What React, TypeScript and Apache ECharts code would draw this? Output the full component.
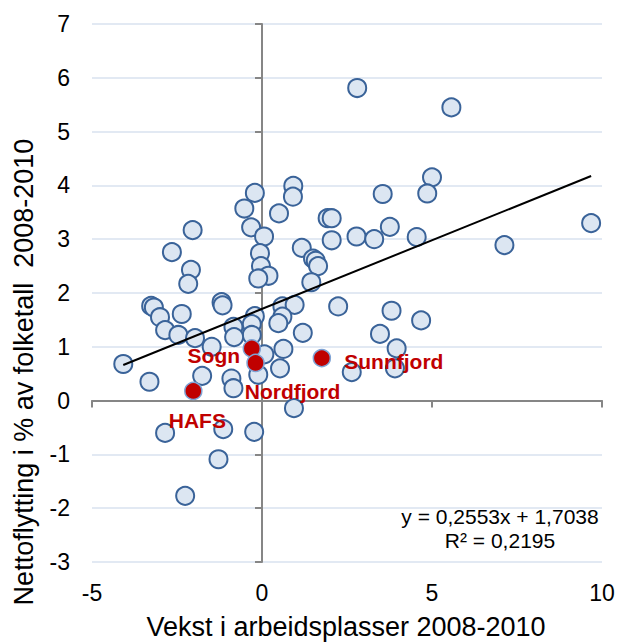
import React, { useEffect, useRef } from "react";
import * as echarts from "echarts";

// Vekst i arbeidsplasser (x) and nettoflytting (y), blue municipalities
const blueX = [
  2.8, 5.57, 5.0, 4.86, 3.55, 0.92, 0.91, -0.21, -0.52, 0.5,
  1.93, 2.05, 3.76, 9.68, -0.32, -2.04, 0.06, 2.78, 4.55, 3.3,
  2.05, 7.13, 1.17, -2.65, -0.06, 1.5, 1.58, 1.65, -0.03, -2.09,
  0.19, -0.11, 1.45, -2.17, 2.24, 3.81, 4.68, 3.47, 3.96, 3.91,
  2.64, 0.6, 0.96, 0.6, 0.48, 1.2, 0.63, 0.07, 0.53, -0.11,
  0.94, -0.21, -0.3, -0.3, -0.84, -0.82, -1.19, -1.16, -3.26, -3.18,
  -3.0, -2.36, -2.85, -2.46, -1.97, -1.48, -4.08, -3.31, -1.76, -0.9,
  -0.84, -2.85, -1.14, -0.23, -1.28, -2.26,
];
const blueY = [
  5.81, 5.45, 4.15, 3.85, 3.84, 3.99, 3.79, 3.86, 3.57, 3.48,
  3.39, 3.39, 3.23, 3.3, 3.22, 3.17, 3.05, 3.05, 3.04, 3.0,
  2.98, 2.89, 2.84, 2.76, 2.74, 2.64, 2.6, 2.5, 2.5, 2.43,
  2.32, 2.27, 2.2, 2.17, 1.75, 1.67, 1.49, 1.24, 0.97, 0.6,
  0.53, 1.75, 1.78, 1.56, 1.44, 1.26, 0.96, 0.86, 0.6, 0.48,
  -0.14, 1.57, 1.42, 1.22, 1.37, 1.18, 1.83, 1.77, 1.76, 1.73,
  1.55, 1.61, 1.31, 1.22, 1.16, 1.0, 0.68, 0.35, 0.46, 0.41,
  0.23, -0.6, -0.53, -0.58, -1.09, -1.77,
];

// Highlighted regions
const regionNames = ["Sogn", "Nordfjord", "Sunnfjord", "HAFS"];
const regionX = [-0.3, -0.19, 1.76, -2.02];
const regionY = [0.97, 0.7, 0.79, 0.18];

// Trendline (linear regression as given on the chart)
const trendSlope = 0.2553;
const trendIntercept = 1.7038;
const trendText = ["y = 0,2553x + 1,7038", "R² = 0,2195"];

const xTicks = { min: -5, max: 10, interval: 5 };
const yTicks = { min: -3, max: 7, interval: 1 };
const xTitle = "Vekst i arbeidsplasser 2008-2010";
const yTitle = "Nettoflytting i % av folketall  2008-2010";

const FONT = "'Liberation Sans', Arial, Helvetica, sans-serif";
const labelOffsets: Record<string, [number, number]> = {
  Sogn: [-38, 7],
  Nordfjord: [37, 29],
  Sunnfjord: [72, 3],
  HAFS: [4, 30],
};

export default function App() {
  const ref = useRef<HTMLDivElement>(null);
  useEffect(() => {
    if (!ref.current) return;
    const chart = echarts.init(ref.current, undefined, { renderer: "svg" });
    const bluePts = blueX.map((x, i) => [x, blueY[i]]);
    const xmin = Math.min(...blueX, ...regionX);
    const xmax = Math.max(...blueX, ...regionX);
    const trendPts = [
      [xmin, trendSlope * xmin + trendIntercept],
      [xmax, trendSlope * xmax + trendIntercept],
    ];
    const redPts = regionNames.map((n, i) => ({
      name: n,
      value: [regionX[i], regionY[i]],
      label: {
        show: true,
        position: "inside",
        offset: labelOffsets[n],
        formatter: n,
        color: "#C00000",
        fontWeight: "bold",
        fontSize: 21,
        fontFamily: FONT,
        align: "center",
        verticalAlign: "middle",
      },
    }));
    const axisGray = { color: "#868686", width: 2 };
    chart.setOption({
      animation: false,
      backgroundColor: "#ffffff",
      grid: { left: 92, right: 15, top: 24, bottom: 81, containLabel: false, outerBoundsMode: "none" },
      xAxis: [
        {
          type: "value", ...xTicks, position: "bottom",
          axisLine: { show: false, onZero: false },
          axisTick: { show: false },
          splitLine: { show: false },
          axisLabel: { fontSize: 23, color: "#000", fontFamily: FONT, margin: 19 },
        },
        {
          type: "value", ...xTicks, position: "bottom",
          axisLine: { show: true, onZero: true, lineStyle: axisGray },
          axisTick: { show: true, length: 7, lineStyle: axisGray },
          splitLine: { show: false },
          axisLabel: { show: false },
        },
      ],
      yAxis: [
        {
          type: "value", ...yTicks, position: "left",
          axisLine: { show: false, onZero: false },
          axisTick: { show: false },
          splitLine: { show: true, lineStyle: { color: "#D8E2EF", width: 1.5 } },
          axisLabel: { fontSize: 23, color: "#000", fontFamily: FONT, margin: 22 },
        },
        {
          type: "value", ...yTicks, position: "left",
          axisLine: { show: true, onZero: true, lineStyle: axisGray },
          axisTick: { show: true, length: 7, lineStyle: axisGray },
          splitLine: { show: false },
          axisLabel: { show: false },
        },
      ],
      series: [
        {
          type: "scatter",
          xAxisIndex: 0, yAxisIndex: 0,
          data: bluePts,
          symbol: "circle",
          symbolSize: 18,
          itemStyle: { color: "#DCE6F2", borderColor: "#3A6399", borderWidth: 2, opacity: 1 },
          z: 3,
        },
        {
          type: "line",
          xAxisIndex: 0, yAxisIndex: 0,
          data: trendPts,
          symbol: "none",
          lineStyle: { color: "#000", width: 2 },
          z: 4,
        },
        {
          type: "scatter",
          xAxisIndex: 0, yAxisIndex: 0,
          data: redPts,
          symbol: "circle",
          symbolSize: 17,
          itemStyle: { color: "#C00000", borderColor: "#7FA3D4", borderWidth: 1.5, opacity: 1 },
          z: 5,
        },
      ],
      graphic: [
        {
          type: "text", x: 500, y: 516, z: 10,
          style: { text: trendText[0], fontSize: 21, fontFamily: FONT, fill: "#000", textAlign: "center", textVerticalAlign: "middle" },
        },
        {
          type: "text", x: 500, y: 540, z: 10,
          style: { text: trendText[1], fontSize: 21, fontFamily: FONT, fill: "#000", textAlign: "center", textVerticalAlign: "middle" },
        },
        {
          type: "text", x: 346, y: 627, z: 10,
          style: { text: xTitle, fontSize: 27, fontFamily: FONT, fill: "#000", textAlign: "center", textVerticalAlign: "middle" },
        },
        {
          type: "text", x: 24, y: 372, rotation: Math.PI / 2, z: 10,
          style: { text: yTitle, fontSize: 27, fontFamily: FONT, fill: "#000", textAlign: "center", textVerticalAlign: "middle" },
        },
      ],
    });
    return () => chart.dispose();
  }, []);
  return <div ref={ref} style={{ width: 617, height: 643, position: "absolute", left: 0, top: 0 }} />;
}
